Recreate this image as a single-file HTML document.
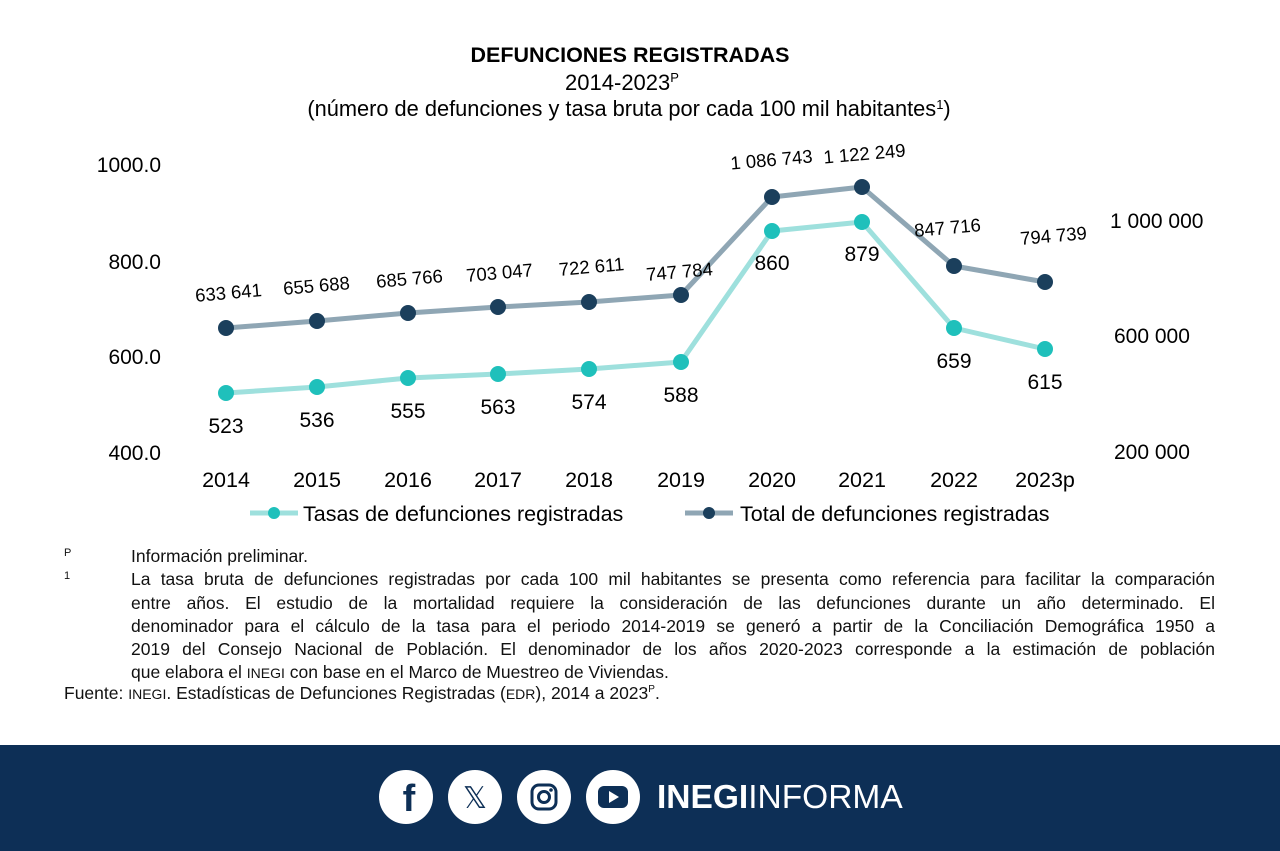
<!DOCTYPE html>
<html><head><meta charset="utf-8"><style>
body{margin:0;width:1280px;height:851px;background:#fff;font-family:"Liberation Sans",Arial,sans-serif;overflow:hidden;position:relative;color:#111}
.fn{position:absolute;left:131px;width:1084px;font-size:17.5px;line-height:23.3px;top:545px;white-space:nowrap}
.fn .j{text-align:justify;text-align-last:justify}
.sc{font-size:14px}
</style></head><body>
<svg width="1280" height="745" style="position:absolute;left:0;top:0" font-family="Liberation Sans, Arial, sans-serif">
<text x="630" y="62" text-anchor="middle" font-size="21.5" font-weight="bold">DEFUNCIONES REGISTRADAS</text>
<text x="622" y="90" text-anchor="middle" font-size="22">2014-2023<tspan font-size="13" dy="-8">P</tspan></text>
<text x="629" y="116" text-anchor="middle" font-size="21.8">(número de defunciones y tasa bruta por cada 100 mil habitantes<tspan font-size="13" dy="-7">1</tspan><tspan dy="7">)</tspan></text>
<g font-size="21" text-anchor="end">
<text x="161" y="172">1000.0</text><text x="161" y="269">800.0</text><text x="161" y="364">600.0</text><text x="161" y="460">400.0</text>
</g>
<g font-size="21">
<text x="1110" y="228">1 000 000</text><text x="1114" y="343">600 000</text><text x="1114" y="459">200 000</text>
</g>
<g font-size="21.5" text-anchor="middle">
<text x="226" y="487">2014</text><text x="317" y="487">2015</text><text x="408" y="487">2016</text><text x="498" y="487">2017</text><text x="589" y="487">2018</text><text x="681" y="487">2019</text><text x="772" y="487">2020</text><text x="862" y="487">2021</text><text x="954" y="487">2022</text><text x="1045" y="487">2023p</text>
</g>
<polyline fill="none" stroke="#8fa6b4" stroke-width="5" stroke-linejoin="round" points="226,328 317,321 408,313 498,307 589,302 681,295 772,197 862,187 954,266 1045,282"/>
<polyline fill="none" stroke="#9ee0dd" stroke-width="5" stroke-linejoin="round" points="226,393 317,387 408,378 498,374 589,369 681,362 772,231 862,222 954,328 1045,349"/>
<g fill="#1b3f5c">
<circle cx="226" cy="328" r="8"/><circle cx="317" cy="321" r="8"/><circle cx="408" cy="313" r="8"/><circle cx="498" cy="307" r="8"/><circle cx="589" cy="302" r="8"/><circle cx="681" cy="295" r="8"/><circle cx="772" cy="197" r="8"/><circle cx="862" cy="187" r="8"/><circle cx="954" cy="266" r="8"/><circle cx="1045" cy="282" r="8"/>
</g>
<g fill="#1fc0bb">
<circle cx="226" cy="393" r="8"/><circle cx="317" cy="387" r="8"/><circle cx="408" cy="378" r="8"/><circle cx="498" cy="374" r="8"/><circle cx="589" cy="369" r="8"/><circle cx="681" cy="362" r="8"/><circle cx="772" cy="231" r="8"/><circle cx="862" cy="222" r="8"/><circle cx="954" cy="328" r="8"/><circle cx="1045" cy="349" r="8"/>
</g>
<g font-size="21" text-anchor="middle">
<text x="226" y="433">523</text><text x="317" y="427">536</text><text x="408" y="418">555</text><text x="498" y="414">563</text><text x="589" y="409">574</text><text x="681" y="402">588</text><text x="772" y="270">860</text><text x="862" y="261">879</text><text x="954" y="368">659</text><text x="1045" y="389">615</text>
</g>
<g font-size="18.5" text-anchor="middle">
<text transform="translate(229,299) rotate(-5)">633 641</text>
<text transform="translate(317,292) rotate(-5)">655 688</text>
<text transform="translate(410,285) rotate(-5)">685 766</text>
<text transform="translate(500,279) rotate(-5)">703 047</text>
<text transform="translate(592,273) rotate(-5)">722 611</text>
<text transform="translate(680,278) rotate(-5)">747 784</text>
<text transform="translate(772,166) rotate(-5)">1 086 743</text>
<text transform="translate(865,160) rotate(-5)">1 122 249</text>
<text transform="translate(948,234) rotate(-5)">847 716</text>
<text transform="translate(1054,242) rotate(-5)">794 739</text>
</g>
<line x1="250" y1="513" x2="298" y2="513" stroke="#9ee0dd" stroke-width="5"/><circle cx="274" cy="513" r="6" fill="#1fc0bb"/>
<text x="303" y="521" font-size="21.5">Tasas de defunciones registradas</text>
<line x1="685" y1="513" x2="733" y2="513" stroke="#8fa6b4" stroke-width="5"/><circle cx="709" cy="513" r="6" fill="#1b3f5c"/>
<text x="740" y="521" font-size="21.5">Total de defunciones registradas</text>
</svg>
<div style="position:absolute;left:64px;top:547px;font-size:11px">P</div>
<div style="position:absolute;left:64px;top:570px;font-size:11px">1</div>
<div class="fn"><div>Información preliminar.</div>
<div class="j">La tasa bruta de defunciones registradas por cada 100 mil habitantes se presenta como referencia para facilitar la comparación</div>
<div class="j">entre años. El estudio de la mortalidad requiere la consideración de las defunciones durante un año determinado. El</div>
<div class="j">denominador para el cálculo de la tasa para el periodo 2014-2019 se generó a partir de la Conciliación Demográfica 1950 a</div>
<div class="j">2019 del Consejo Nacional de Población. El denominador de los años 2020-2023 corresponde a la estimación de población</div>
<div>que elabora el <span class="sc">INEGI</span> con base en el Marco de Muestreo de Viviendas.</div></div>
<div style="position:absolute;left:64px;top:683px;font-size:17.5px">Fuente: <span class="sc">INEGI</span>. Estadísticas de Defunciones Registradas (<span class="sc">EDR</span>), 2014 a 2023<sup style="font-size:10px">P</sup>.</div>
<div style="position:absolute;left:0;top:745px;width:1280px;height:106px;background:#0d2f56"></div>
<svg width="1280" height="106" style="position:absolute;left:0;top:745px" font-family="Liberation Sans, Arial, sans-serif">
<g fill="#fff"><circle cx="406" cy="52" r="27"/><circle cx="475" cy="52" r="27"/><circle cx="544" cy="52" r="27"/><circle cx="613" cy="52" r="27"/></g>
<text x="409" y="66" text-anchor="middle" font-size="38" font-weight="bold" fill="#0d2f56">f</text>
<text x="475" y="63" text-anchor="middle" font-size="30" fill="#0d2f56">𝕏</text>
<rect x="532" y="40" width="24" height="24" rx="7" fill="none" stroke="#0d2f56" stroke-width="3"/><circle cx="544" cy="52" r="5.5" fill="none" stroke="#0d2f56" stroke-width="3"/><circle cx="551" cy="45" r="1.8" fill="#0d2f56"/>
<rect x="598" y="41" width="30" height="22" rx="6" fill="#0d2f56"/><polygon points="609,46 609,58 619,52" fill="#fff"/>
<text x="657" y="63" font-size="33.5" fill="#fff"><tspan font-weight="bold">INEGI</tspan>INFORMA</text>
</svg>
</body></html>
